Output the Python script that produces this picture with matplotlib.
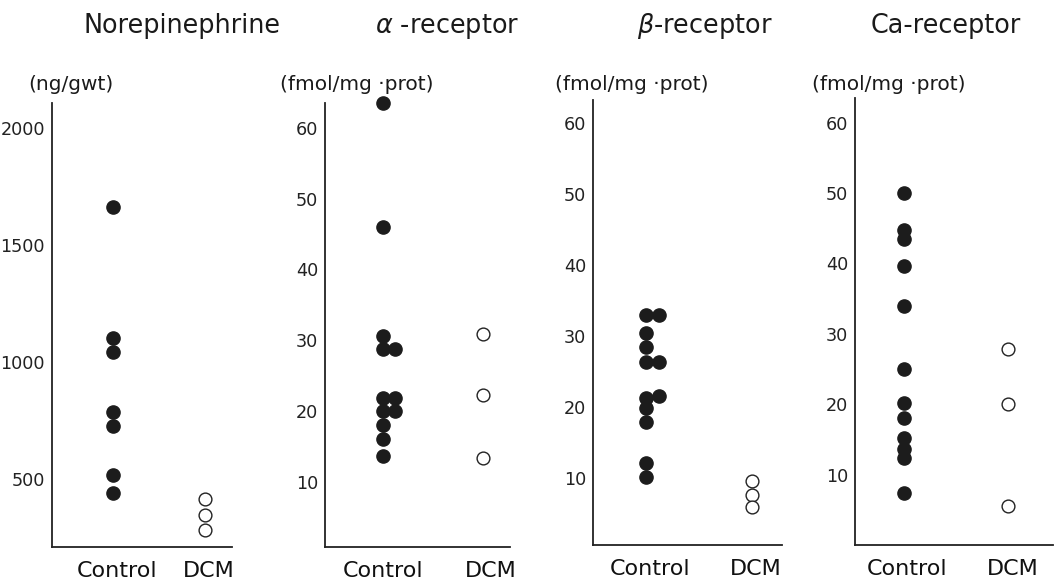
import matplotlib
matplotlib.use("Agg")
import matplotlib.pyplot as plt

plt.rcParams['font.family'] = ['DejaVu Sans']
plt.rcParams['mathtext.fontset'] = 'dejavusans'

# data
groups = ['Control', 'DCM']
titles = ['Norepinephrine', r'$\alpha$ -receptor', r'$\beta$-receptor', 'Ca-receptor']
units = ['(ng/gwt)', '(fmol/mg \u00b7prot)', '(fmol/mg \u00b7prot)', '(fmol/mg \u00b7prot)']

ne_control = [1662, 1103, 1043, 787, 727, 517, 440]
ne_col = [0, 0, 0, 0, 0, 0, 0]
ne_dcm = [415, 347, 284]
ne_ticks = [500, 1000, 1500, 2000]

alpha_control = [63.5, 46, 30.6, 28.8, 28.8, 21.8, 21.8, 20, 20, 18, 16.1, 13.7]
alpha_col = [0, 0, 0, 0, 1, 0, 1, 0, 1, 0, 0, 0]
alpha_dcm = [30.9, 22.3, 13.4]

beta_control = [33, 33, 30.4, 28.5, 26.3, 26.3, 21.3, 21.5, 19.9, 17.9, 12.2, 10.1]
beta_col = [0, 1, 0, 0, 0, 1, 0, 1, 0, 0, 0, 0]
beta_dcm = [9.6, 7.7, 5.9]

ca_control = [50, 44.7, 43.4, 39.7, 33.9, 25, 20.2, 18.1, 15.2, 13.7, 12.3, 7.4]
ca_col = [0] * 12
ca_dcm = [27.8, 20, 5.6]

rec_ticks = [10, 20, 30, 40, 50, 60]

W, H = 1056, 584
fig = plt.figure(figsize=(W / 100, H / 100), dpi=100)

# panel layout in pixels: left, right, bottom, top, ylim, xlim
panels = [
    (52, 232, 547, 103, (210, 2107), (-0.663, 1.293), ne_control, ne_col, ne_dcm, ne_ticks),
    (325, 510, 547, 103, (0.8, 63.5), (-0.58, 1.27), alpha_control, alpha_col, alpha_dcm, rec_ticks),
    (593, 782, 545, 100, (0.6, 63.2), (-0.505, 1.28), beta_control, beta_col, beta_dcm, rec_ticks),
    (855, 1053, 545, 98, (0.0, 63.5), (-0.47, 1.43), ca_control, ca_col, ca_dcm, rec_ticks),
]

title_x = [182, 447, 705, 946]
unit_x = [28, 280, 555, 812]
label_x = [(0.04, 1.04), (0.0, 1.08), (0.03, 1.03), (0.03, 1.04)]

for i, (l, r, b, t, ylim, xlim, ctrl, col, dcm, ticks) in enumerate(panels):
    ax = fig.add_axes([l / W, 1 - b / H, (r - l) / W, (b - t) / H])
    xs = [0 + 0.12 * c for c in col]
    ax.plot(xs, ctrl, 'o', ms=9.5, color='#1c1c1c', mec='#1c1c1c', clip_on=False)
    ax.plot([1] * len(dcm), dcm, 'o', ms=9.2, mfc='white', mec='#222222', mew=1.0, clip_on=False)
    ax.set_ylim(*ylim)
    ax.set_xlim(*xlim)
    ax.set_yticks(ticks)
    ax.set_yticklabels([str(v) for v in ticks], fontsize=12.7, color='#222222')
    ax.set_xticks(label_x[i])
    ax.set_xticklabels(groups, fontsize=16, color='#111111')
    ax.tick_params(axis='y', length=0, pad=5)
    ax.tick_params(axis='x', length=0, pad=10)
    for s in ['top', 'right']:
        ax.spines[s].set_visible(False)
    for s in ['left', 'bottom']:
        ax.spines[s].set_linewidth(1.3)
        ax.spines[s].set_color('#222222')

    fig.text(title_x[i] / W, 1 - 33 / H, titles[i], ha='center', va='baseline',
             fontsize=18.4, color='#1a1a1a')
    fig.text(unit_x[i] / W, 1 - 90 / H, units[i], ha='left', va='baseline',
             fontsize=14.5, color='#1a1a1a')

fig.savefig('out.png', dpi=100)
